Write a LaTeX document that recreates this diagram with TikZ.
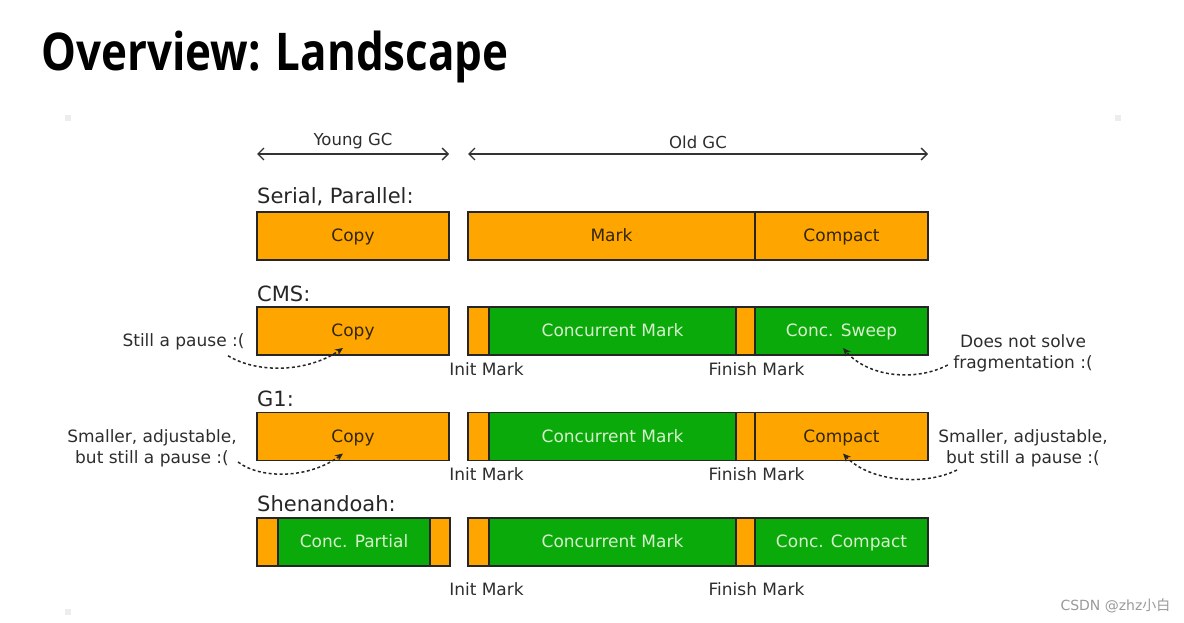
\documentclass[tikz,border=0pt]{standalone}
\usepackage{fontspec}
\setmainfont{DejaVu Sans}
\newfontfamily\titlefont[FakeStretch=0.845]{Open Sans}
\newfontfamily\cjkfont{Noto Sans CJK SC}
\usetikzlibrary{positioning,arrows.meta}
\definecolor{gcorange}{RGB}{255,165,0}
\definecolor{gcgreen}{RGB}{10,170,10}
\definecolor{gclight}{RGB}{215,240,205}
\definecolor{gcdark}{RGB}{50,38,10}
\definecolor{notegray}{RGB}{45,45,45}
\begin{document}
\begin{tikzpicture}[x=1pt, y=-1pt,
    seg/.style={draw=black!85, line width=1.3pt, minimum height=48pt, inner sep=0pt,
        outer sep=0pt, anchor=west, text height=14pt, text depth=3pt,
        font=\fontsize{17}{20}\selectfont},
    pausebox/.style={seg, fill=gcorange, text=gcdark},
    concbox/.style={seg, fill=gcgreen, text=gclight},
    group/.style={anchor=west, inner sep=0pt, font=\fontsize{21}{24}\selectfont, text=black!85},
    note/.style={font=\fontsize{17}{21}\selectfont, text=notegray, align=center},
    span/.style={{Straight Barb[length=6pt, width=12pt]}-{Straight Barb[length=6pt, width=12pt]},
        line width=1.4pt, black!80},
    pausearrow/.style={-{Stealth[length=8pt, width=7pt]}, line width=1.5pt,
        dash pattern=on 3pt off 2.5pt, black!85}]
    \useasboundingbox (0,0) rectangle (1184,623);
    % slide corner marks
    \fill[black!7] (65,115) rectangle (71,121);
    \fill[black!7] (1115,115) rectangle (1121,121);
    \fill[black!7] (65,609) rectangle (71,615);
    \node[anchor=west, inner sep=0pt, font=\titlefont\bfseries\fontsize{52}{60}\selectfont] (title) at (41,57) {Overview: Landscape};

    % generation spans
    \coordinate (young-l) at (257,154);
    \coordinate (young-r) at (449,154);
    \coordinate (old-l) at (468,154);
    \coordinate (old-r) at (928,154);
    \draw[span] (young-l) -- node[midway, above=1pt, note, font=\fontsize{16.5}{20}\selectfont] {Young GC} (young-r);
    \draw[span] (old-l) -- node[midway, above=1pt, note, font=\fontsize{16.5}{20}\selectfont] {Old GC} (old-r);

    % Serial, Parallel
    \node[group] (sp) at (257,197) {Serial, Parallel:};
    \node[pausebox, minimum width=192pt] (sp-copy) at (257,236) {Copy};
    \node[pausebox, minimum width=287pt] (sp-mark) at (468,236) {Mark};
    \node[pausebox, minimum width=173pt, right=0pt of sp-mark] (sp-compact) {Compact};

    % CMS
    \node[group] (cms) at (257,294) {CMS:};
    \node[pausebox, minimum width=192pt] (cms-copy) at (257,331) {Copy};
    \node[pausebox, minimum width=21pt] (cms-init) at (468,331) {};
    \node[concbox, minimum width=247pt, right=0pt of cms-init] (cms-mark) {Concurrent Mark};
    \node[pausebox, minimum width=19pt, right=0pt of cms-mark] (cms-finish) {};
    \node[concbox, minimum width=173pt, right=0pt of cms-finish] (cms-sweep) {Conc. Sweep};
    \node[note, anchor=north] at ([xshift=8pt, yshift=-4pt]cms-init.south) {Init Mark};
    \node[note, anchor=north] at ([xshift=11pt, yshift=-4pt]cms-finish.south) {Finish Mark};

    % G1
    \node[group] (g1) at (257,399) {G1:};
    \node[pausebox, minimum width=192pt] (g1-copy) at (257,436.5) {Copy};
    \node[pausebox, minimum width=21pt] (g1-init) at (468,436.5) {};
    \node[concbox, minimum width=247pt, right=0pt of g1-init] (g1-mark) {Concurrent Mark};
    \node[pausebox, minimum width=19pt, right=0pt of g1-mark] (g1-finish) {};
    \node[pausebox, minimum width=173pt, right=0pt of g1-finish] (g1-compact) {Compact};
    \node[note, anchor=north] at ([xshift=8pt, yshift=-4pt]g1-init.south) {Init Mark};
    \node[note, anchor=north] at ([xshift=11pt, yshift=-4pt]g1-finish.south) {Finish Mark};

    % Shenandoah
    \node[group] (shen) at (257,504) {Shenandoah:};
    \node[pausebox, minimum width=21pt] (shen-a) at (257,542) {};
    \node[concbox, minimum width=152pt, right=0pt of shen-a] (shen-partial) {Conc. Partial};
    \node[pausebox, minimum width=20pt, right=0pt of shen-partial] (shen-b) {};
    \node[pausebox, minimum width=21pt] (shen-init) at (468,542) {};
    \node[concbox, minimum width=247pt, right=0pt of shen-init] (shen-mark) {Concurrent Mark};
    \node[pausebox, minimum width=19pt, right=0pt of shen-mark] (shen-finish) {};
    \node[concbox, minimum width=173pt, right=0pt of shen-finish] (shen-compact) {Conc. Compact};
    \node[note, anchor=north] at ([xshift=8pt, yshift=-13pt]shen-init.south) {Init Mark};
    \node[note, anchor=north] at ([xshift=11pt, yshift=-13pt]shen-finish.south) {Finish Mark};

    % remarks
    \node[note, anchor=east] (cms-note) at (248,342) {Still a pause :(};
    \coordinate (cms-note-end) at ([xshift=-20pt, yshift=-2pt]cms-note.south east);
    \coordinate (cms-copy-tip) at ([xshift=-10pt, yshift=7pt]cms-copy.south);
    \draw[pausearrow] (cms-note-end) .. controls (258,374) and (308,372) .. (cms-copy-tip);

    \node[note] (sweep-note) at (1023,353) {Does not solve\\fragmentation :(};
    \coordinate (sweep-note-end) at ([xshift=-2pt, yshift=-12pt]sweep-note.west);
    \coordinate (sweep-tip) at ([xshift=1.5pt, yshift=7pt]cms-sweep.south);
    \draw[pausearrow] (sweep-note-end) .. controls (915,382) and (868,377) .. (sweep-tip);

    \node[note] (g1-note) at (152,448) {Smaller, adjustable,\\but still a pause :(};
    \coordinate (g1-note-end) at ([xshift=86pt, yshift=-14pt]g1-note.center);
    \coordinate (g1-copy-tip) at ([xshift=-10pt, yshift=7pt]g1-copy.south);
    \draw[pausearrow] (g1-note-end) .. controls (262,480) and (310,478) .. (g1-copy-tip);

    \node[note] (compact-note) at (1023,448) {Smaller, adjustable,\\but still a pause :(};
    \coordinate (compact-note-end) at ([xshift=-66pt, yshift=-22pt]compact-note.center);
    \coordinate (compact-tip) at ([xshift=1.5pt, yshift=7pt]g1-compact.south);
    \draw[pausearrow] (compact-note-end) .. controls (925,486) and (870,482) .. (compact-tip);

    \node[anchor=east, text=black!40, font=\fontsize{14}{16}\selectfont] (csdn) at (1174,606) {CSDN @zhz{\cjkfont 小白}};
\end{tikzpicture}
\end{document}
